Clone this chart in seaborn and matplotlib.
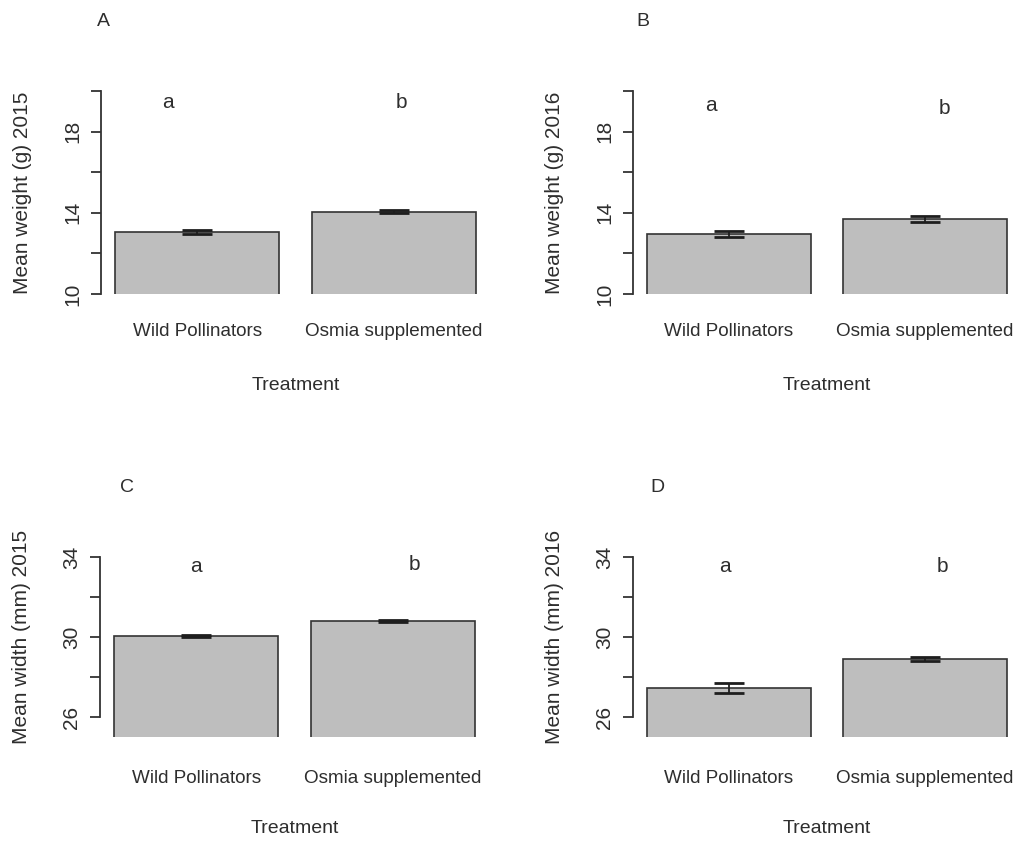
import pandas as pd
import matplotlib.pyplot as plt
import seaborn as sns

# data
treatments = ['Wild Pollinators', 'Osmia supplemented']
panel_tags = ['A', 'B', 'C', 'D']
y_labels = ['Mean weight (g) 2015', 'Mean weight (g) 2016',
            'Mean width (mm) 2015', 'Mean width (mm) 2016']
weight_2015 = [13.05, 14.05]
weight_2015_se = [0.08, 0.08]
weight_2016 = [12.95, 13.70]
weight_2016_se = [0.15, 0.15]
width_2015 = [30.05, 30.80]
width_2015_se = [0.05, 0.05]
width_2016 = [27.45, 28.90]
width_2016_se = [0.25, 0.10]
sig_letters = ['a', 'b']
weight_ticks = [10, 12, 14, 16, 18, 20]
weight_tick_labels = ['10', '', '14', '', '18', '']
width_ticks = [26, 28, 30, 32, 34]
width_tick_labels = ['26', '', '30', '', '34']

means = [weight_2015, weight_2016, width_2015, width_2016]
ses = [weight_2015_se, weight_2016_se, width_2015_se, width_2016_se]

sns.set_style('white')
plt.rcParams['font.family'] = ['Liberation Sans', 'DejaVu Sans']

W, H = 1022, 849
fig = plt.figure(figsize=(W / 100, H / 100), dpi=100)

TXT = '#2e2e2e'
BAR = '#bebebe'

# panel boxes in pixels: left, top, right, bottom
boxes = [(101, 83, 490, 294), (633, 83, 1021, 294),
         (100, 549, 489, 737), (633, 549, 1021, 737)]
ylims = [(10, 20.4), (10, 20.4), (25, 34.4), (25, 34.4)]
# letter positions (data coords) for the significance labels
letter_x = [(-0.15, 1.04), (-0.09, 1.10), (0.0, 1.11), (-0.02, 1.09)]
letter_y = [(19.46, 19.46), (19.3, 19.15), (33.5, 33.6), (33.5, 33.5)]
tag_pos = [(103, 21), (643, 21), (127, 487), (657, 487)]

for i in range(4):
    l, t, r, b = boxes[i]
    ax = fig.add_axes([l / W, 1 - b / H, (r - l) / W, (b - t) / H])
    df = pd.DataFrame({'Treatment': treatments, 'value': means[i]})
    sns.barplot(data=df, x='Treatment', y='value', color=BAR, saturation=1,
                edgecolor='#333333', linewidth=1.2, width=0.833,
                errorbar=None, ax=ax)
    ax.errorbar(range(len(treatments)), means[i], yerr=ses[i], fmt='none',
                ecolor='#1e1e1e', elinewidth=1.3, capsize=10.5, capthick=2.0)

    ax.set_xlim(-0.49, 1.49)
    ax.set_ylim(*ylims[i])
    sns.despine(ax=ax, top=True, right=True, bottom=True)
    ax.spines['left'].set_color('#333333')
    ax.spines['left'].set_linewidth(1.3)

    if i < 2:
        ticks, labels = weight_ticks, weight_tick_labels
    else:
        ticks, labels = width_ticks, width_tick_labels
    ax.spines['left'].set_bounds(ticks[0], ticks[-1])
    ax.set_yticks(ticks)
    ax.set_yticklabels(labels, rotation=90, va='center', color=TXT, fontsize=15)
    ax.tick_params(axis='y', length=7.5, width=1.3, color='#333333', pad=6, left=True)
    ax.tick_params(axis='x', length=0, pad=21 if i < 2 else 24, labelsize=13.6,
                   labelcolor=TXT)

    ax.set_ylabel(y_labels[i], fontsize=15, color=TXT)
    ax.set_xlabel('Treatment', fontsize=14, color=TXT)
    y0, y1 = ylims[i]
    mid = ((ticks[0] + ticks[-1]) / 2 - y0) / (y1 - y0)
    ax.yaxis.set_label_coords(-69 / (r - l), mid)
    ax.xaxis.set_label_coords(0.5, -83 / (b - t))

    for j in range(2):
        ax.text(letter_x[i][j], letter_y[i][j], sig_letters[j], ha='center',
                va='center', fontsize=15, color=TXT)

    fig.text(tag_pos[i][0] / W, 1 - tag_pos[i][1] / H, panel_tags[i],
             ha='center', va='center', fontsize=14, color=TXT)

fig.savefig('out.png', dpi=100, facecolor='white')
